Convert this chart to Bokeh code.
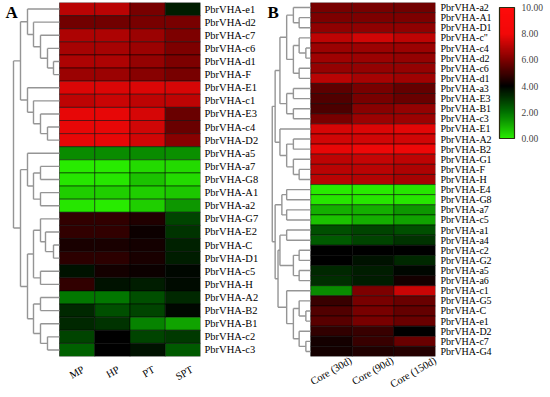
import numpy as np
from bokeh.plotting import figure
from bokeh.models import (ColumnDataSource, Range1d, FixedTicker, LinearColorMapper,
                          ColorBar, Label, LinearAxis, PrintfTickFormatter)
from bokeh.layouts import row
from bokeh.embed import file_html
from bokeh.resources import INLINE

# ---------------- data: panel A ----------------
cols_a = ["MP", "HP", "PT", "SPT"]
genes_a = ["PbrVHA-e1", "PbrVHA-d2", "PbrVHA-c7", "PbrVHA-c6", "PbrVHA-d1", "PbrVHA-F",
           "PbrVHA-E1", "PbrVHA-c1", "PbrVHA-E3", "PbrVHA-c4", "PbrVHA-D2", "PbrVHA-a5",
           "PbrVHA-a7", "PbrVHA-G8", "PbrVHA-A1", "PbrVHA-a2", "PbrVHA-G7", "PbrVHA-E2",
           "PbrVHA-C", "PbrVHA-D1", "PbrVHA-c5", "PbrVHA-H", "PbrVHA-A2", "PbrVHA-B2",
           "PbrVHA-B1", "PbrVHA-c2", "PbrVHA-c3"]
val_mp = [7.0, 5.8, 6.8, 6.7, 6.8, 6.5, 7.6, 7.1, 7.8, 7.8, 7.8, 1.6, 0.0, 0.1, 0.5, 0.1,
          4.8, 4.8, 4.4, 4.7, 3.7, 4.8, 1.9, 3.3, 3.3, 2.8, 2.3]
val_hp = [7.0, 5.8, 6.8, 6.7, 6.8, 6.5, 7.6, 7.3, 7.8, 7.8, 7.8, 1.6, 0.0, 0.1, 0.5, 0.0,
          4.8, 4.8, 4.4, 4.7, 4.3, 3.7, 1.9, 2.6, 3.1, 4.0, 4.0]
val_pt = [5.9, 5.9, 6.5, 6.5, 6.4, 6.2, 7.6, 7.1, 7.5, 7.4, 7.4, 1.6, 0.3, 0.7, 0.5, 0.5,
          4.5, 4.2, 4.3, 4.4, 4.2, 3.5, 2.6, 2.8, 1.7, 2.8, 3.7]
val_spt = [3.5, 5.9, 6.0, 6.0, 6.0, 5.9, 7.5, 7.1, 5.7, 5.7, 6.2, 1.5, 0.3, 0.3, 0.6, 1.4,
           2.8, 3.1, 3.4, 3.5, 3.9, 3.8, 3.3, 3.9, 1.2, 3.0, 2.4]

# dendrogram A: [merge distance, left, right]
tree_a = [46,
          [39,
           [32, "PbrVHA-e1", [26, "PbrVHA-d2", [19, "PbrVHA-c7", [12, "PbrVHA-c6", [6, "PbrVHA-d1", "PbrVHA-F"]]]]],
           [32, "PbrVHA-E1", [26, "PbrVHA-c1", [19, "PbrVHA-E3", [12, "PbrVHA-c4", "PbrVHA-D2"]]]]],
          [39,
           [32, "PbrVHA-a5", [26, [19, "PbrVHA-a7", "PbrVHA-G8"], [19, "PbrVHA-A1", "PbrVHA-a2"]]],
           [32,
            [26, [19, "PbrVHA-G7", [14, "PbrVHA-E2", [6, "PbrVHA-C", "PbrVHA-D1"]]], [19, "PbrVHA-c5", "PbrVHA-H"]],
            [26, [19, "PbrVHA-A2", "PbrVHA-B2"], [19, "PbrVHA-B1", [12, "PbrVHA-c2", "PbrVHA-c3"]]]]]]

# ---------------- data: panel B ----------------
cols_b = ["Core (30d)", "Core (90d)", "Core (150d)"]
genes_b = ["PbrVHA-a2", "PbrVHA-A1", "PbrVHA-D1", 'PbrVHA-c"', "PbrVHA-c4", "PbrVHA-d2",
           "PbrVHA-c6", "PbrVHA-d1", "PbrVHA-a3", "PbrVHA-E3", "PbrVHA-B1", "PbrVHA-c3",
           "PbrVHA-E1", "PbrVHA-A2", "PbrVHA-B2", "PbrVHA-G1", "PbrVHA-F", "PbrVHA-H",
           "PbrVHA-E4", "PbrVHA-G8", "PbrVHA-a7", "PbrVHA-c5", "PbrVHA-a1", "PbrVHA-a4",
           "PbrVHA-c2", "PbrVHA-G2", "PbrVHA-a5", "PbrVHA-a6", "PbrVHA-c1", "PbrVHA-G5",
           "PbrVHA-C", "PbrVHA-e1", "PbrVHA-D2", "PbrVHA-c7", "PbrVHA-G4"]
val_30 = [5.9, 6.0, 6.3, 7.1, 6.5, 6.6, 6.4, 7.0, 5.5, 5.3, 5.2, 5.9, 7.5, 7.4, 7.8, 7.1, 7.0, 7.0,
          0.0, 0.1, 1.0, 0.7, 2.6, 2.4, 4.0, 4.0, 3.3, 3.2, 1.6, 4.9, 5.3, 5.4, 4.8, 4.3, 4.3]
val_90 = [5.9, 6.0, 6.3, 7.4, 6.5, 6.5, 6.4, 6.7, 5.9, 5.9, 6.2, 6.5, 7.6, 7.4, 7.9, 7.2, 7.0, 6.9,
          0.0, 0.1, 1.0, 1.0, 2.8, 2.8, 4.0, 3.7, 3.5, 3.5, 6.0, 5.9, 5.9, 5.9, 4.9, 4.9, 4.5]
val_150 = [5.8, 6.0, 6.3, 7.1, 6.5, 6.4, 6.4, 6.6, 5.6, 5.7, 6.4, 6.5, 7.7, 7.4, 7.9, 7.1, 6.8, 6.7,
           0.1, 0.1, 1.4, 1.2, 2.6, 3.1, 4.0, 3.3, 3.9, 4.3, 7.3, 5.7, 5.6, 5.7, 4.0, 5.7, 4.6]

tree_b = [40,
          [37,
           [32,
            [25, [18, "PbrVHA-a2", [12, "PbrVHA-A1", "PbrVHA-D1"]],
                 [18, [12, 'PbrVHA-c"', [5, "PbrVHA-c4", "PbrVHA-d2"]], [12, "PbrVHA-c6", "PbrVHA-d1"]]],
            [25, [18, "PbrVHA-a3", "PbrVHA-E3"], [18, "PbrVHA-B1", "PbrVHA-c3"]]],
           [32, "PbrVHA-E1", [25, [18, "PbrVHA-A2", "PbrVHA-B2"], [18, "PbrVHA-G1", [12, "PbrVHA-F", "PbrVHA-H"]]]]],
          [37,
           [30, [25, "PbrVHA-E4", "PbrVHA-G8"], [25, "PbrVHA-a7", "PbrVHA-c5"]],
           [34,
            [32, [25, "PbrVHA-a1", "PbrVHA-a4"],
                 [18, [12, "PbrVHA-c2", "PbrVHA-G2"], [12, "PbrVHA-a5", "PbrVHA-a6"]]],
            [25, "PbrVHA-c1", [18, [12, "PbrVHA-G5", [5, "PbrVHA-C", "PbrVHA-e1"]],
                                    [12, "PbrVHA-D2", [5, "PbrVHA-c7", "PbrVHA-G4"]]]]]]]

color_ticks = [0, 2, 4, 6, 8, 10]

# ---------------- colour map ----------------
stops = [(0, (40, 235, 0)), (2, (0, 112, 0)), (4, (0, 0, 0)), (6, (125, 0, 0)),
         (8, (242, 8, 8)), (10, (255, 10, 10))]
sv = np.array([s[0] for s in stops], float)
rgb = np.array([s[1] for s in stops], float)
t = np.linspace(0, 10, 256)
palette = ["#%02x%02x%02x" % tuple(int(round(np.interp(tt, sv, rgb[:, k]))) for k in range(3)) for tt in t]
mapper = LinearColorMapper(palette=palette, low=0, high=10)

FONT = "Liberation Serif"
DCOL = "#959595"
ANGLE = 0.52


def text_width(s, size):
    w = 0.0
    for ch in s:
        if ch.isupper():
            w += 0.68
        elif ch.isdigit():
            w += 0.5
        elif ch == " ":
            w += 0.25
        elif ch in "()":
            w += 0.333
        else:
            w += 0.46
    return w * size


def tree_segments(tree, order, ppu):
    idx = {g: i for i, g in enumerate(order)}
    x0, y0, x1, y1 = [], [], [], []

    def dx(d):
        return -0.5 - d / ppu

    def rec(node):
        if isinstance(node, str):
            return float(idx[node]), 0.0
        h, a, b = node
        ya, ha = rec(a)
        yb, hb = rec(b)
        for yc, hc in ((ya, ha), (yb, hb)):
            x0.append(dx(hc)); y0.append(yc); x1.append(dx(h)); y1.append(yc)
        x0.append(dx(h)); y0.append(ya); x1.append(dx(h)); y1.append(yb)
        return (ya + yb) / 2.0, h

    rec(tree)
    return ColumnDataSource(dict(x0=x0, y0=y0, x1=x1, y1=y1))


def heat_panel(cols, genes, series, tree, width, left_border, right_border, heat_left_px,
               ppu, ysize, ystandoff, letter, letter_px, xstandoff):
    n = len(genes)
    xs, ys, vs = [], [], []
    for j, s in enumerate(series):
        for i, v in enumerate(s):
            xs.append(j); ys.append(i); vs.append(v)
    src = ColumnDataSource(dict(x=xs, y=ys, v=vs))
    x_start = -0.5 - (heat_left_px - left_border) / ppu
    x_end = len(cols) - 0.5
    p = figure(width=width, height=397, output_backend="svg", toolbar_location=None,
               x_range=Range1d(x_start, x_end), y_range=Range1d(n - 0.5, -0.5),
               y_axis_location="right", min_border_left=left_border, min_border_right=right_border,
               min_border_top=2, min_border_bottom=40)
    p.outline_line_color = None
    p.grid.visible = False
    p.rect(x="x", y="y", width=1, height=1, source=src,
           fill_color={"field": "v", "transform": mapper},
           line_color="black", line_width=0.7, line_alpha=0.7)
    p.segment(x0="x0", y0="y0", x1="x1", y1="y1", source=tree_segments(tree, genes, ppu),
              line_color=DCOL, line_width=1.4)
    for ax in (p.xaxis[0], p.yaxis[0]):
        ax.axis_line_color = None
        ax.major_tick_line_color = None
        ax.minor_tick_line_color = None
        ax.major_tick_out = 0
        ax.major_tick_in = 0
        ax.major_label_text_font = FONT
        ax.major_label_text_color = "black"
    # Bokeh right-aligns rotated labels at the tick: shift ticks so each label is centred on its column
    xsize = 10.5
    ticks = [round(min(j + 0.5 * text_width(c, xsize) * np.cos(ANGLE) / ppu, x_end - 0.002), 4)
             for j, c in enumerate(cols)]
    p.xaxis.ticker = FixedTicker(ticks=ticks)
    p.xaxis.major_label_overrides = {tk: c for tk, c in zip(ticks, cols)}
    p.xaxis.major_label_orientation = ANGLE
    p.xaxis.major_label_text_font_size = "%spx" % xsize
    p.xaxis.major_label_standoff = xstandoff
    p.yaxis.ticker = FixedTicker(ticks=list(range(n)))
    p.yaxis.major_label_overrides = {i: g for i, g in enumerate(genes)}
    p.yaxis.major_label_text_font_size = ysize
    p.yaxis.major_label_standoff = ystandoff
    lx = -0.5 - (heat_left_px - letter_px) / ppu
    p.add_layout(Label(x=lx, y=-0.5, text=letter, text_font=FONT, text_font_style="bold",
                       text_font_size="17px", text_baseline="top", text_color="black"))
    return p


pA = heat_panel(cols_a, genes_a, [val_mp, val_hp, val_pt, val_spt], tree_a, 266, 2, 66, 59,
                141 / 4, "10.5px", 4, "A", 5, 12)
pB = heat_panel(cols_b, genes_b, [val_30, val_90, val_150], tree_b, 284, 0, 108, 46,
                130 / 3, "10px", 5, "B", 1, 3)

# small empty spacer axis between the gene labels and the colour bar
spacer = LinearAxis(ticker=FixedTicker(ticks=[]), axis_line_color=None, major_tick_out=5,
                    major_tick_in=0, minor_tick_out=0, minor_tick_in=0, major_label_standoff=0,
                    major_tick_line_color=None, minor_tick_line_color=None)
pB.add_layout(spacer, "right")

cb = ColorBar(color_mapper=mapper, ticker=FixedTicker(ticks=color_ticks),
              formatter=PrintfTickFormatter(format="%.2f"), width=15, height=131,
              location="top_left", padding=5, bar_line_color="#2a2a10", bar_line_width=1.2,
              major_tick_line_color=None, minor_tick_line_color=None, label_standoff=7,
              major_label_text_font=FONT, major_label_text_font_size="9.5px",
              background_fill_color=None, border_line_color=None)
pB.add_layout(cb, "right")

layout = row(pA, pB)
open("out.html", "w").write(file_html(layout, INLINE))
